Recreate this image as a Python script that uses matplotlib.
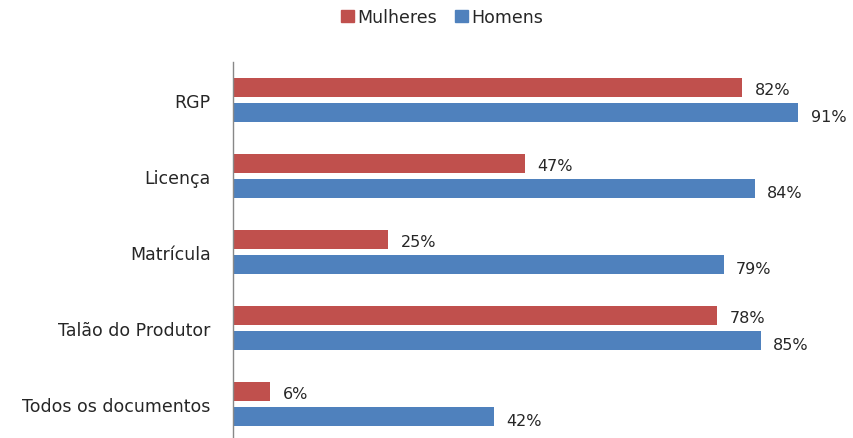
import numpy as np
import matplotlib.pyplot as plt
from matplotlib.patches import Patch

# documentos por categoria (% com o documento)
categorias = ['RGP', 'Licença', 'Matrícula', 'Talão do Produtor', 'Todos os documentos']
mulheres = [82, 47, 25, 78, 6]
homens = [91, 84, 79, 85, 42]

cor_m = '#C0504D'
cor_h = '#4F81BD'
cor_txt = '#262626'

W, H = 854, 439
fig = plt.figure(figsize=(W / 100, H / 100), dpi=100)
# eixo: x=0 em 233px, categorias espaçadas ~76px
ax = fig.add_axes([233 / W, -4 / H, 621 / W, 380 / H])

y = np.arange(len(categorias))[::-1]
h = 0.25
off = 0.165
ax.barh(y + off, mulheres, height=h, color=cor_m)
ax.barh(y - off, homens, height=h, color=cor_h)

for yi, v in zip(y + off, mulheres):
    ax.text(v + 2.0, yi - 0.03, f'{v}%', va='center', ha='left', fontsize=11.5, color=cor_txt)
for yi, v in zip(y - off, homens):
    ax.text(v + 2.0, yi - 0.05, f'{v}%', va='center', ha='left', fontsize=11.5, color=cor_txt)

ax.set_xlim(0, 100)
ax.set_ylim(-0.5, 4.5)
ax.set_yticks(y)
ax.set_yticklabels(categorias, fontsize=12.5, color=cor_txt)
ax.tick_params(axis='y', length=0, pad=16)
ax.set_xticks([])
for s in ['top', 'right', 'bottom']:
    ax.spines[s].set_visible(False)
ax.spines['left'].set_color('#888888')
ax.spines['left'].set_linewidth(1)

handles = [Patch(color=cor_m, label='Mulheres'), Patch(color=cor_h, label='Homens')]
fig.legend(handles=handles, loc='center', bbox_to_anchor=(442 / W, 1 - 18 / H), ncol=2,
           frameon=False, fontsize=12.5, handlelength=0.75, handleheight=0.75,
           handletextpad=0.2, columnspacing=1.0, labelcolor=cor_txt)

fig.savefig('out.png', dpi=100)
